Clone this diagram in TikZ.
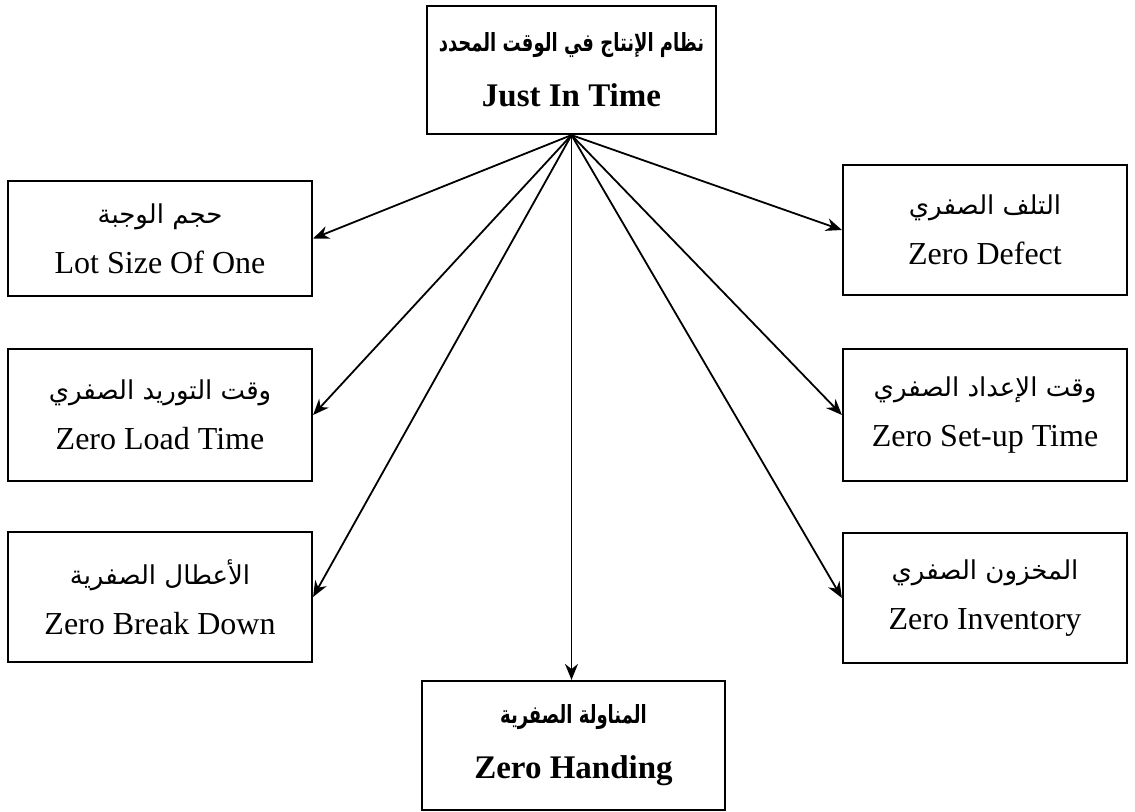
\documentclass[tikz,border=0pt]{standalone}
\usepackage{fontspec}
\setmainfont{Liberation Serif}
\newfontfamily\arabicfont[Script=Arabic]{DejaVu Sans}
\newfontfamily\arabichead[Script=Arabic, FakeStretch=0.72]{DejaVu Sans}
\TeXXeTstate=1
\usetikzlibrary{positioning, arrows.meta}
\newcommand{\artxt}[1]{{\arabicfont\fontsize{13}{25}\selectfont\beginR #1\endR}}
\newcommand{\arhead}[1]{{\arabichead\fontsize{12.5}{25}\selectfont\beginR #1\endR}}

\begin{document}
\begin{tikzpicture}[
  x=0.5pt, y=-0.5pt,
  font=\fontsize{16}{25}\selectfont,
  item/.style={draw, line width=1.1pt, align=center, inner sep=0pt,
               minimum width=152pt, minimum height=66pt},
  head/.style={item, font=\fontsize{16.5}{27.5}\selectfont\bfseries},
  link/.style={-{Stealth[length=8pt, width=6.5pt]}, line width=0.9pt},
]
\useasboundingbox (0, 0) rectangle (1135, 812);

% top and bottom
\node[head, minimum width=144.5pt, minimum height=64pt] (jit) at (571.5, 70)
  {\arhead{نظام الإنتاج في الوقت المحدد}\\Just In Time};
\node[head, minimum width=151.5pt, minimum height=64.5pt] (hand) at (573.5, 745.5)
  {\arhead{المناولة الصفرية}\\Zero Handing};

% left column
\node[item, minimum height=57.5pt] (lot) at (160, 238.5)
  {\artxt{حجم الوجبة}\\Lot Size Of One};
\node[item] (load) at (160, 415)
  {\artxt{وقت التوريد الصفري}\\Zero Load Time};
\node[item, minimum height=65pt] (brk) at (160, 597)
  {\artxt{الأعطال الصفرية}\\Zero Break Down};

% right column
\node[item, minimum width=142pt, minimum height=65pt] (defect) at (985, 230)
  {\artxt{التلف الصفري}\\Zero Defect};
\node[item, minimum width=142pt] (setup) at (985, 415)
  {\artxt{وقت الإعداد الصفري}\\Zero Set-up Time};
\node[item, minimum width=142pt, minimum height=65pt] (inv) at (985, 598)
  {\artxt{المخزون الصفري}\\Zero Inventory};

\draw[link] (jit.south) -- (lot.east);
\draw[link] (jit.south) -- (load.east);
\draw[link] (jit.south) -- (brk.east);
\draw[link] (jit.south) -- (defect.west);
\draw[link] (jit.south) -- (setup.west);
\draw[link] (jit.south) -- (inv.west);
\draw[link] (jit.south) -- (jit.south |- hand.north);

\end{tikzpicture}
\end{document}
